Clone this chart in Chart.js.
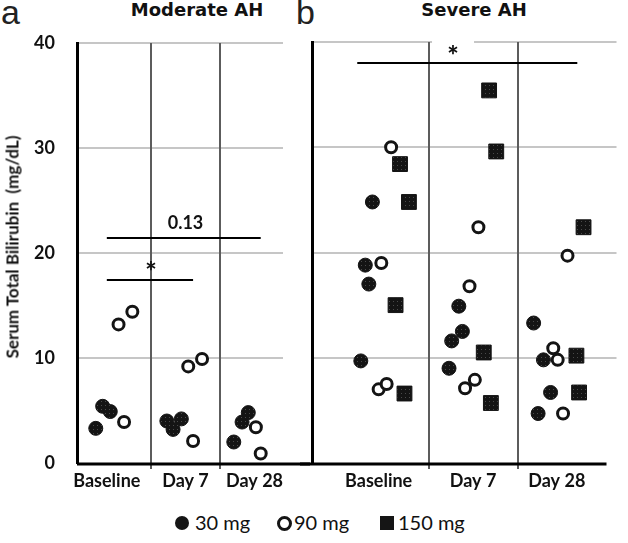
<!DOCTYPE html>
<html>
<head>
<meta charset="utf-8">
<script src="https://cdn.jsdelivr.net/npm/chart.js@4.4.0/dist/chart.umd.min.js"></script>
<style>
  body { margin: 0; background: #fff; }
  #page { position: relative; width: 628px; height: 543px; overflow: hidden; color: #1a1a1a; }
  .panelTitle { position: absolute; top: -1px; font: bold 18px "DejaVu Sans"; transform: translateX(-50%); white-space: nowrap; color: #111; }
  .letter { position: absolute; top: -7px; font: 34px "Liberation Sans"; color: #222; }
  #yTitle { position: absolute; left: 12px; top: 247px; transform: translate(-50%, -50%) rotate(-90deg);
            font: bold 17px Lato; color: #111; white-space: pre; }
  #leftWrap { position: absolute; left: 0; top: 0; }
  #rightWrap { position: absolute; left: 300px; top: 0; }
  .leg { position: absolute; top: 511px; font: 20px Lato; line-height: 22px; white-space: nowrap; color: #111; }
  .sym { position: absolute; box-sizing: border-box; }
</style>
</head>
<body>
<div id="page">
  <div class="letter" style="left:1px">a</div>
  <div class="letter" style="left:296px">b</div>
  <div class="panelTitle" style="left:197px">Moderate AH</div>
  <div class="panelTitle" style="left:474px">Severe AH</div>
  <div id="leftWrap"><canvas id="leftChart" width="310" height="500"></canvas></div>
  <div id="rightWrap"><canvas id="rightChart" width="328" height="500"></canvas></div>
  <div id="yTitle">Serum Total Bilirubin  (mg/dL)</div>

  <span class="sym" style="left:175px;top:516px;width:14px;height:14px;border-radius:50%;background:#151515"></span>
  <span class="leg" style="left:195px">30 mg</span>
  <span class="sym" style="left:277px;top:516px;width:15px;height:15px;border-radius:50%;border:3px solid #151515"></span>
  <span class="leg" style="left:294px">90 mg</span>
  <span class="sym" style="left:380px;top:516px;width:14px;height:14px;background:#151515"></span>
  <span class="leg" style="left:398px">150 mg</span>
</div>

<script>
const categories = ["Baseline", "Day 7", "Day 28"];
const yTicks = [0, 10, 20, 30, 40];
const doses = ["30 mg", "90 mg", "150 mg"];

// each point: [category index + jitter, serum total bilirubin mg/dL]
const moderate30 = [[-0.30, 3.3], [-0.20, 5.4], [-0.09, 4.9], [0.73, 4.0], [0.82, 3.2], [0.94, 4.2], [1.70, 2.0], [1.82, 3.9], [1.91, 4.8]];
const moderate90 = [[0.03, 13.2], [0.23, 14.4], [0.11, 3.9], [1.04, 9.2], [1.24, 9.9], [1.11, 2.1], [2.02, 3.4], [2.09, 0.9]];
const moderate150 = [];

const severe30 = [[-0.13, 24.8], [-0.21, 18.8], [-0.17, 17.0], [-0.26, 9.7], [0.84, 14.9], [0.88, 12.5], [0.76, 11.6], [0.73, 9.0], [1.68, 13.3], [1.79, 9.8], [1.87, 6.7], [1.73, 4.7]];
const severe90 = [[0.08, 30.0], [-0.03, 19.0], [-0.06, 7.0], [0.03, 7.5], [1.06, 22.4], [0.96, 16.8], [1.02, 7.9], [0.91, 7.1], [2.06, 19.7], [1.90, 10.9], [1.95, 9.8], [2.01, 4.7]];
const severe150 = [[0.18, 28.4], [0.28, 24.8], [0.13, 15.0], [0.23, 6.6], [1.18, 35.4], [1.26, 29.6], [1.12, 10.5], [1.20, 5.7], [2.24, 22.4], [2.16, 10.2], [2.19, 6.7]];

// where the category names sit on each panel's x axis
const moderateLabelPos = [-0.14, 1.0, 2.0];
const severeLabelPos = [-0.06, 1.0, 1.94];
const dividers = [0.5, 1.5];

// significance bars: from, to, y, label, label x, label y
const moderateBars = [
  { from: -0.14, to: 2.09, y: 21.4, label: "0.13", lx: 1.0, ly: 22.8, boxed: false },
  { from: -0.14, to: 1.11, y: 17.4, label: "*", lx: 0.5, ly: 18.7, boxed: true }
];
const severeBars = [
  { from: -0.30, to: 2.17, y: 38.0, label: "*", lx: 0.775, ly: 39.2, boxed: true }
];

function dotPattern() {
  const c = document.createElement("canvas");
  c.width = 4; c.height = 4;
  const g = c.getContext("2d");
  g.fillStyle = "#141414";
  g.fillRect(0, 0, 4, 4);
  g.fillStyle = "#4a4a4a";
  g.fillRect(1, 1, 1, 1);
  return g.createPattern(c, "repeat");
}
const filled = dotPattern();

const toPoints = arr => arr.map(p => ({ x: p[0], y: p[1] }));

function makeMarks(bars, extendLeft, extendRight) {
  return {
    id: "panelMarks",
    beforeDatasetsDraw(chart) {
      const { ctx, chartArea: a, scales: { x, y } } = chart;
      ctx.save();
      // white patches behind the stars
      bars.forEach(b => {
        if (!b.boxed) return;
        const cx = x.getPixelForValue(b.lx), cy = y.getPixelForValue(b.ly);
        ctx.fillStyle = "#fff";
        ctx.fillRect(cx - 21, cy - 12, 42, 22);
      });
      // category dividers
      ctx.strokeStyle = "#5c5c5c";
      ctx.lineWidth = 2;
      dividers.forEach(d => {
        const px = Math.round(x.getPixelForValue(d));
        ctx.beginPath();
        ctx.moveTo(px, a.top);
        ctx.lineTo(px, a.bottom + 6);
        ctx.stroke();
      });
      // x axis continues between the panels
      ctx.strokeStyle = "#000";
      ctx.lineWidth = 3;
      ctx.beginPath();
      ctx.moveTo(a.left - extendLeft, a.bottom + 1);
      ctx.lineTo(a.right + extendRight, a.bottom + 1);
      ctx.stroke();
      // significance bars
      ctx.lineWidth = 2;
      ctx.fillStyle = "#111";
      ctx.textAlign = "center";
      ctx.textBaseline = "middle";
      bars.forEach(b => {
        const py = Math.round(y.getPixelForValue(b.y));
        ctx.beginPath();
        ctx.moveTo(x.getPixelForValue(b.from), py);
        ctx.lineTo(x.getPixelForValue(b.to), py);
        ctx.stroke();
        const cx = x.getPixelForValue(b.lx), cy = y.getPixelForValue(b.ly);
        if (b.label === "*") {
          ctx.font = "900 27px Lato";
          ctx.fillText(b.label, cx, cy + 6);
        } else {
          ctx.font = "bold 18px Lato";
          ctx.fillText(b.label, cx, cy);
        }
      });
      ctx.restore();
    }
  };
}

function buildChart(canvasId, sets, labelPos, xMin, xMax, pad, yWidth, showY, bars, extL, extR) {
  return new Chart(document.getElementById(canvasId), {
    type: "scatter",
    data: {
      datasets: [
        { label: doses[0], data: toPoints(sets[0]), pointStyle: "circle", pointRadius: 7, pointHoverRadius: 7,
          backgroundColor: filled, borderColor: "#141414", borderWidth: 1 },
        { label: doses[1], data: toPoints(sets[1]), pointStyle: "circle", pointRadius: 5.5, pointHoverRadius: 5.5,
          backgroundColor: "#fff", borderColor: "#141414", borderWidth: 3 },
        { label: doses[2], data: toPoints(sets[2]), pointStyle: "rect", pointRadius: 10.5, pointHoverRadius: 10.5,
          backgroundColor: filled, borderColor: "#141414", borderWidth: 1 }
      ]
    },
    options: {
      responsive: false,
      animation: false,
      layout: { padding: pad },
      plugins: { legend: { display: false }, tooltip: { enabled: false } },
      scales: {
        x: {
          type: "linear",
          min: xMin,
          max: xMax,
          afterFit: s => { s.height = 30; },
          afterBuildTicks: s => { s.ticks = labelPos.map(v => ({ value: v })); },
          grid: { display: false, drawTicks: false },
          border: { display: false },
          ticks: {
            autoSkip: false,
            maxRotation: 0,
            padding: 7,
            color: "#111",
            font: { family: "Lato", size: 18, weight: "bold" },
            callback: (v, i) => categories[i]
          }
        },
        y: {
          min: 0,
          max: 40,
          afterFit: s => { s.width = yWidth; },
          afterBuildTicks: s => { s.ticks = yTicks.map(v => ({ value: v })); },
          grid: {
            drawTicks: false,
            lineWidth: 2,
            color: c => c.tick && c.tick.value === 0 ? "rgba(0,0,0,0)" : "#c6c6c6"
          },
          border: { display: true, color: "#000", width: 3 },
          ticks: {
            display: showY,
            padding: 22,
            color: "#111",
            font: { family: "Lato", size: 18, weight: "bold" }
          }
        }
      }
    },
    plugins: [makeMarks(bars, extL, extR)]
  });
}

buildChart("leftChart", [moderate30, moderate90, moderate150], moderateLabelPos, -0.572, 2.413,
  { top: 43, right: 27, bottom: 7, left: 0 }, 77, true, moderateBars, 0, 27);
buildChart("rightChart", [severe30, severe90, severe150], severeLabelPos, -0.808, 2.61,
  { top: 42, right: 5, bottom: 7, left: 0 }, 12, false, severeBars, 12, -10);
</script>
</body>
</html>
